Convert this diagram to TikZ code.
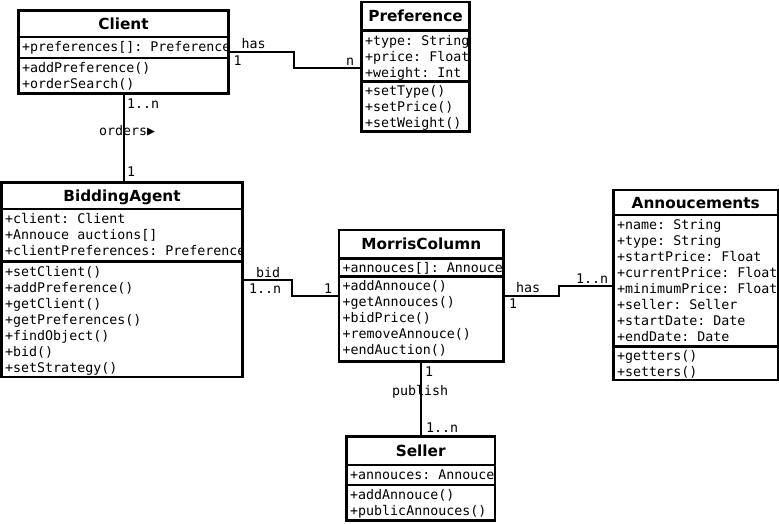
\documentclass[tikz,border=0pt]{standalone}
\usepackage{fontspec}
\setmonofont{DejaVu Sans Mono}
\setsansfont{DejaVu Sans}
\begin{document}
\begin{tikzpicture}[x=1pt,y=-1pt,
  frame/.style={draw, line width=2.8pt, rectangle, inner sep=0pt, outer sep=0pt},
  divider/.style={line width=2.6pt},
  classtitle/.style={anchor=base, inner sep=0pt, font=\sffamily\bfseries\fontsize{15.3}{18}\selectfont},
  member/.style={anchor=base west, inner sep=0pt, font=\ttfamily\fontsize{13.3}{16}\selectfont},
  rolelabel/.style={anchor=base west, inner sep=0pt, font=\ttfamily\fontsize{13.3}{16}\selectfont},
  assoc/.style={line width=2pt}]

% canvas
\path[fill=white] (0,0) rectangle (779,523);
\useasboundingbox (0,0) rectangle (779,523);

% member lines of a class, clipped at the right border
% #1 prefix, #2 left, #3 right, #4 first baseline, #5 list
\newcommand\classtext[5]{%
  \begin{scope}
    \clip (#2,#4-20) rectangle (#3-1.4,#4+200);
    \foreach \s [count=\k from 0] in {#5}
      \node[member] (#1-\k) at (#2+3.5,#4+16*\k) {\s};
  \end{scope}}

% class frame with two compartment dividers and a centred title
% #1 name, #2 left, #3 right, #4 top, #5 divider 1, #6 divider 2, #7 bottom, #8 title
\newcommand\classframe[8]{%
  \node[frame, minimum width={#3pt-#2pt}, minimum height={#7pt-#4pt}, anchor=north west] (#1) at (#2,#4) {};
  \draw[divider] (#2,#5) -- (#3,#5);
  \draw[divider] (#2,#6) -- (#3,#6);
  \node[classtitle] (#1-title) at ({(#2+#3)/2},{(#4+#5)/2+5.6}) {#8};}

% ---- member texts
\classtext{clienta}{18.5}{228.5}{51.2}{{+preferences[]: Preference}}
\classtext{clientm}{18.5}{228.5}{72.2}{{+addPreference()},{+orderSearch()}}

\classtext{prefa}{361.5}{469.5}{45}{{+type: String},{+price: Float},{+weight: Int}}
\classtext{prefm}{361.5}{469.5}{95.8}{{+setType()},{+setPrice()},{+setWeight()}}

\classtext{baa}{1.5}{242.5}{223.5}{{+client: Client},{+Annouce auctions[]},{+clientPreferences: Preference}}
\classtext{bam}{1.5}{242.5}{276}{{+setClient()},{+addPreference()},{+getClient()},{+getPreferences()},{+findObject()},{+bid()},{+setStrategy()}}

\classtext{mca}{339}{503.5}{272.5}{{+annouces[]: Annouce}}
\classtext{mcm}{339}{503.5}{290.8}{{+addAnnouce()},{+getAnnouces()},{+bidPrice()},{+removeAnnouce()},{+endAuction()}}

\classtext{anna}{613.5}{778}{229.2}{{+name: String},{+type: String},{+startPrice: Float},{+currentPrice: Float},{+minimumPrice: Float},{+seller: Seller},{+startDate: Date},{+endDate: Date}}
\classtext{annm}{613.5}{778}{360.8}{{+getters()},{+setters()}}

\classtext{sela}{346.5}{495}{479}{{+annouces: Annouce}}
\classtext{selm}{346.5}{495}{499}{{+addAnnouce()},{+publicAnnouces()}}

% ---- class frames
\classframe{client}{18.5}{228.5}{10.5}{37}{58}{93.5}{Client}
\classframe{pref}{361.5}{469.5}{2}{30.5}{81.5}{131.5}{Preference}
\classframe{ba}{1.5}{242.5}{182.5}{209}{261.5}{377}{BiddingAgent}
\classframe{mc}{339}{503.5}{230}{258.5}{276.5}{361.5}{MorrisColumn}
\classframe{ann}{613.5}{778}{190}{215}{346.5}{380}{Annoucements}
\classframe{seller}{346.5}{495}{436.5}{465}{485}{520.5}{Seller}

% ---- associations
\draw[assoc] (client.east) -- ++(65.5,0) |- (pref.west |- 0,68);
\draw[assoc] (client.south) -- (client.south |- ba.north);
\draw[assoc] (ba.east) -- ++(49,0) |- (mc.west |- 0,295.5);
\draw[assoc] (mc.east) -- ++(55,0) |- (ann.west |- 0,285.5);
\draw[assoc] (mc.south) -- (mc.south |- seller.north);

% ---- association labels and multiplicities
\node[rolelabel] (l-has1) at (241.5,48) {has};
\node[rolelabel] (m-c1) at (233.5,65) {1};
\node[rolelabel] (m-pn) at (346,65) {n};
\node[rolelabel] (m-c1n) at (127,108) {1..n};
\node[rolelabel] (l-orders) at (99,135) {orders▶};
\node[rolelabel] (m-ba1) at (127,176) {1};
\node[rolelabel] (l-bid) at (256,277) {bid};
\node[rolelabel] (m-ba1n) at (249,293) {1..n};
\node[rolelabel] (m-mc1) at (324,293) {1};
\node[rolelabel] (l-has2) at (516,292.5) {has};
\node[rolelabel] (m-mc1b) at (509,308) {1};
\node[rolelabel] (m-ann1n) at (576,283) {1..n};
\node[rolelabel] (m-mc1c) at (425,376) {1};
\node[rolelabel] (l-publish) at (392,395) {publish};
\node[rolelabel] (m-sel1n) at (426,432) {1..n};
\end{tikzpicture}
\end{document}
